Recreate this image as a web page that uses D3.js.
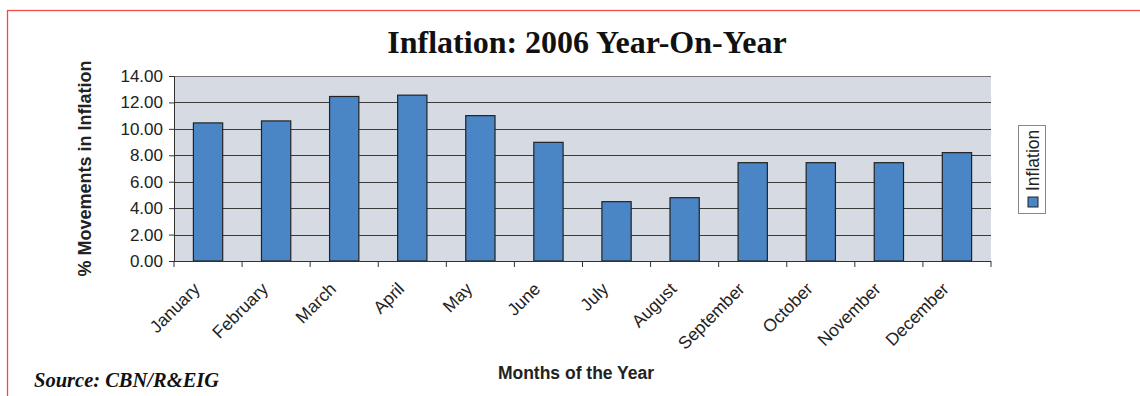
<!DOCTYPE html>
<html>
<head>
<meta charset="utf-8">
<script src="https://cdn.jsdelivr.net/npm/d3@7"></script>
<style>
  body { margin: 0; background: #fff; }
  svg text { font-family: "Liberation Sans", Arial, sans-serif; }
</style>
</head>
<body>
<div id="chart"></div>
<script>
// monthly year-on-year inflation, 2006
var months = ["January", "February", "March", "April", "May", "June",
              "July", "August", "September", "October", "November", "December"];
var inflation = [10.45, 10.6, 12.45, 12.55, 11.0, 8.98, 4.49, 4.79, 7.44, 7.44, 7.44, 8.2];
var yTicks = [0, 2, 4, 6, 8, 10, 12, 14];

var w = 1140;
var h = 396;
var margin = {left: 174, right: 149, top: 76, bottom: 135};
var plotW = w - margin.left - margin.right;
var plotH = h - margin.top - margin.bottom;

var svg = d3.select("#chart").append("svg")
  .attr("width", w)
  .attr("height", h);

// red frame
svg.append("rect")
  .attr("x", 7.5).attr("y", 10.5)
  .attr("width", 1160).attr("height", 420)
  .attr("fill", "none")
  .attr("stroke", "#ee4a4c")
  .attr("stroke-width", 1.3);

var g = svg.append("g")
  .attr("transform", "translate(" + margin.left + "," + margin.top + ")");

var x = d3.scaleBand()
  .domain(months)
  .range([0, plotW])
  .padding(0);

var y = d3.scaleLinear()
  .domain([0, 14])
  .range([plotH, 0]);

// plot background
g.append("rect")
  .attr("width", plotW).attr("height", plotH)
  .attr("fill", "#d6dbe3");

// gridlines
g.selectAll(".grid")
  .data(yTicks.slice(1))
  .enter()
  .append("line")
  .attr("x1", 0).attr("x2", plotW)
  .attr("y1", function(d) { return Math.round(y(d)) + 0.5; })
  .attr("y2", function(d) { return Math.round(y(d)) + 0.5; })
  .attr("stroke", function(d) { return d === 14 ? "#777" : "#3a3a3a"; })
  .attr("stroke-width", 1.2);

// bars
var barW = x.bandwidth() * 0.43;
g.selectAll(".bar")
  .data(inflation)
  .enter()
  .append("rect")
  .attr("x", function(d, i) { return x(months[i]) + (x.bandwidth() - barW) / 2; })
  .attr("y", function(d) { return y(d); })
  .attr("width", barW)
  .attr("height", function(d) { return plotH - y(d); })
  .attr("fill", "#4a86c6")
  .attr("stroke", "#222")
  .attr("stroke-width", 1.2);

// y axis
var yAxis = g.append("g")
  .call(d3.axisLeft(y).tickValues(yTicks).tickFormat(d3.format(".2f")).tickSize(5).tickPadding(6));
yAxis.select(".domain").attr("stroke", "#333");
yAxis.selectAll(".tick line").attr("stroke", "#333");
yAxis.selectAll("text").style("font-size", "17px").attr("fill", "#222");

// x axis: ticks at category boundaries
var xAxis = g.append("g")
  .attr("transform", "translate(0," + plotH + ")");
xAxis.append("line")
  .attr("x1", 0).attr("x2", plotW)
  .attr("y1", 0.5).attr("y2", 0.5)
  .attr("stroke", "#333").attr("stroke-width", 1.2);
xAxis.selectAll(".xtick")
  .data(months.concat(["end"]))
  .enter()
  .append("line")
  .attr("x1", function(d, i) { return i < months.length ? x(d) : plotW; })
  .attr("x2", function(d, i) { return i < months.length ? x(d) : plotW; })
  .attr("y1", 0).attr("y2", 6)
  .attr("stroke", "#333");
xAxis.selectAll(".xlabel")
  .data(months)
  .enter()
  .append("text")
  .attr("transform", function(d) {
    return "translate(" + (x(d) + x.bandwidth() / 2 - 7) + ",29) rotate(-45)";
  })
  .attr("text-anchor", "end")
  .style("font-size", "17.5px")
  .attr("fill", "#222")
  .text(function(d) { return d; });

// title
svg.append("text")
  .attr("x", 587).attr("y", 53)
  .attr("text-anchor", "middle")
  .style("font-family", "'Liberation Serif', 'Times New Roman', serif")
  .style("font-weight", "bold")
  .style("font-size", "32px")
  .attr("fill", "#111")
  .text("Inflation: 2006 Year-On-Year");

// axis titles
svg.append("text")
  .attr("transform", "translate(91," + (margin.top + plotH / 2) + ") rotate(-90)")
  .attr("text-anchor", "middle")
  .style("font-weight", "bold")
  .style("font-size", "18px")
  .attr("fill", "#222")
  .text("% Movements in Inflation");

svg.append("text")
  .attr("x", 576).attr("y", 379)
  .attr("text-anchor", "middle")
  .style("font-weight", "bold")
  .style("font-size", "17.5px")
  .attr("fill", "#222")
  .text("Months of the Year");

// legend
var legend = svg.append("g").attr("transform", "translate(1018,125)");
legend.append("rect")
  .attr("x", 0.5).attr("y", 0.5)
  .attr("width", 27).attr("height", 88)
  .attr("fill", "#fff")
  .attr("stroke", "#888");
legend.append("rect")
  .attr("x", 10).attr("y", 72)
  .attr("width", 10).attr("height", 10)
  .attr("fill", "#4a86c6")
  .attr("stroke", "#222");
legend.append("text")
  .attr("transform", "translate(21,66) rotate(-90)")
  .style("font-size", "17.5px")
  .attr("fill", "#222")
  .text("Inflation");

// source
svg.append("text")
  .attr("x", 34).attr("y", 387)
  .style("font-family", "'Liberation Serif', 'Times New Roman', serif")
  .style("font-weight", "bold")
  .style("font-style", "italic")
  .style("font-size", "20.5px")
  .attr("fill", "#111")
  .text("Source: CBN/R&EIG");
</script>
</body>
</html>
